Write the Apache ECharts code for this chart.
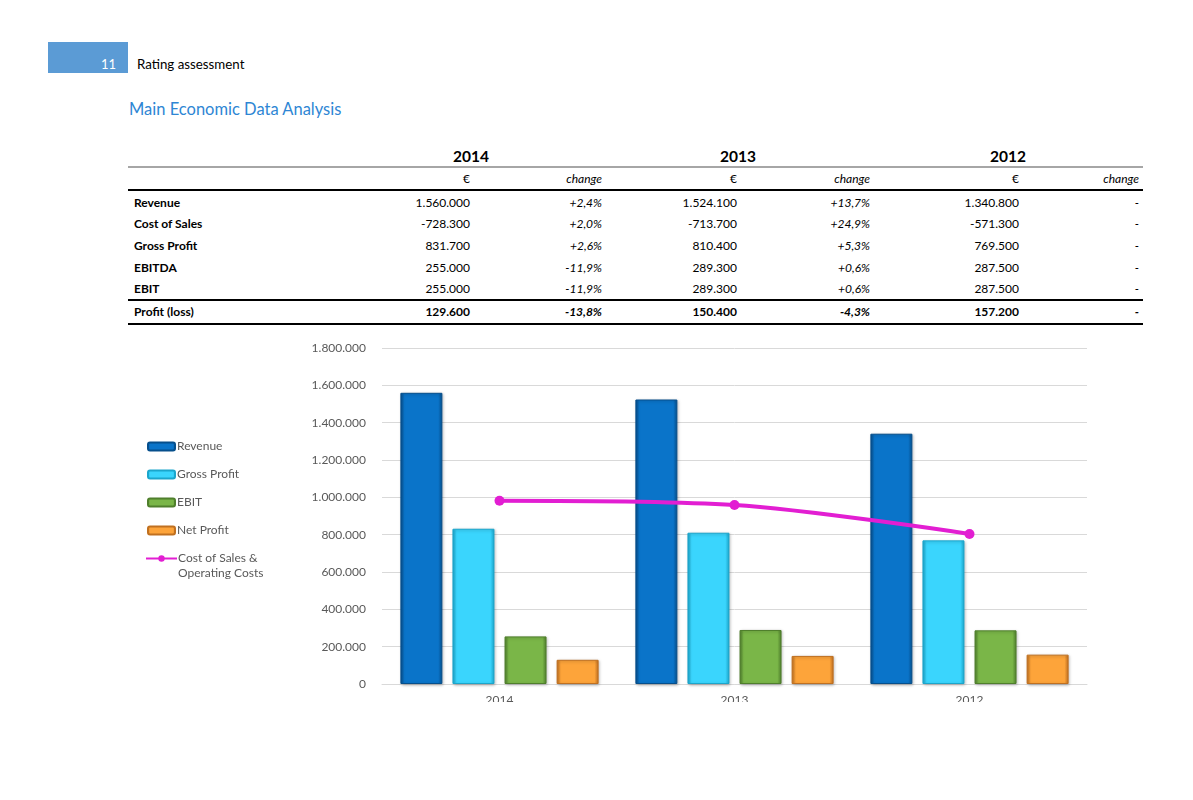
<!DOCTYPE html>
<html>
<head>
<meta charset="utf-8">
<script src="https://cdn.jsdelivr.net/npm/echarts@6/dist/echarts.min.js"></script>
<style>
  body { margin: 0; background: #fff; font-family: Lato, "Open Sans", sans-serif; }
  #page { position: relative; width: 1193px; height: 800px; overflow: hidden; }
  .abs { position: absolute; white-space: nowrap; }
  .hline { position: absolute; left: 128px; width: 1015px; }
  #chart { position: absolute; left: 0; top: 330px; width: 1193px; height: 372px; }
</style>
</head>
<body>
<div id="page">
  <div class="abs" style="left:48px;top:42px;width:80px;height:31px;background:#5b9bd5;"></div>
  <div class="abs" style="left:101px;top:56px;color:#fff;font-size:13px;">11</div>
  <div class="abs" style="left:137px;top:56px;color:#000;font-size:13.3px;">Rating assessment</div>
  <div class="abs" style="left:129px;top:99px;color:#2e86d4;font-size:16.5px;">Main Economic Data Analysis</div>
  <div id="table"></div>
  <div id="chart"></div>
</div>
<script>
// table
var years = ['2014', '2013', '2012'];
var rowNames = ['Revenue', 'Cost of Sales', 'Gross Profit', 'EBITDA', 'EBIT', 'Profit (loss)'];
var euro2014 = ['1.560.000', '-728.300', '831.700', '255.000', '255.000', '129.600'];
var chg2014 = ['+2,4%', '+2,0%', '+2,6%', '-11,9%', '-11,9%', '-13,8%'];
var euro2013 = ['1.524.100', '-713.700', '810.400', '289.300', '289.300', '150.400'];
var chg2013 = ['+13,7%', '+24,9%', '+5,3%', '+0,6%', '+0,6%', '-4,3%'];
var euro2012 = ['1.340.800', '-571.300', '769.500', '287.500', '287.500', '157.200'];
var chg2012 = ['-', '-', '-', '-', '-', '-'];

// chart
var categories = ['2014', '2013', '2012'];
var revenue = [1560000, 1524100, 1340800];
var grossProfit = [831700, 810400, 769500];
var ebit = [255000, 289300, 287500];
var netProfit = [129600, 150400, 157200];
var costs = [982000, 959000, 804000];

function buildTable() {
    var t = document.getElementById('table');
    var html = '';
    var yearX = [471, 738, 1008];
    years.forEach(function (y, i) {
        html += '<div class="abs" style="left:' + (yearX[i] - 40) + 'px;width:80px;text-align:center;top:147px;font-size:15.5px;font-weight:bold;font-family:Lato;">' + y + '</div>';
    });
    var euroRight = [470, 737, 1019];
    var chgRight = [602, 870, 1139];
    var cols = [[euro2014, chg2014], [euro2013, chg2013], [euro2012, chg2012]];
    for (var c = 0; c < 3; c++) {
        html += '<div class="abs" style="left:' + (euroRight[c] - 100) + 'px;width:100px;text-align:right;top:171px;font-size:12px;">€</div>';
        html += '<div class="abs" style="left:' + (chgRight[c] - 100) + 'px;width:100px;text-align:right;top:171px;font-size:12px;font-style:italic;">change</div>';
    }
    var rowY = [195, 216, 238, 260, 281, 304];
    rowNames.forEach(function (name, r) {
        var bold = r === 5 ? 'font-weight:bold;' : '';
        html += '<div class="abs" style="left:134px;top:' + rowY[r] + 'px;font-size:12px;font-weight:bold;">' + name + '</div>';
        for (var c = 0; c < 3; c++) {
            html += '<div class="abs" style="left:' + (euroRight[c] - 100) + 'px;width:100px;text-align:right;top:' + rowY[r] + 'px;font-size:12px;' + bold + '">' + cols[c][0][r] + '</div>';
            html += '<div class="abs" style="left:' + (chgRight[c] - 100) + 'px;width:100px;text-align:right;top:' + rowY[r] + 'px;font-size:12px;font-style:italic;' + bold + '">' + cols[c][1][r] + '</div>';
        }
    });
    html += '<div class="hline" style="top:166px;height:2px;background:#a6a6a6;"></div>';
    html += '<div class="hline" style="top:189px;height:2px;background:#000;"></div>';
    html += '<div class="hline" style="top:299px;height:2px;background:#000;"></div>';
    html += '<div class="hline" style="top:323px;height:2px;background:#000;"></div>';
    t.innerHTML = html;
}
buildTable();

function bevel(main, dark) {
    return {
        color: new echarts.graphic.LinearGradient(0, 0, 1, 0, [
            {offset: 0, color: dark},
            {offset: 0.1, color: main},
            {offset: 0.9, color: main},
            {offset: 1, color: dark}
        ]),
        borderColor: dark,
        borderWidth: 1,
        shadowColor: 'rgba(0,0,0,0.25)',
        shadowBlur: 3,
        shadowOffsetX: 1,
        shadowOffsetY: 1
    };
}

function fmt(v) {
    return String(v).replace(/\B(?=(\d{3})+(?!\d))/g, '.');
}

var lineName = 'Cost of Sales &\nOperating Costs';

var myChart = echarts.init(document.getElementById('chart'));
var option = {
    animation: false,
    textStyle: {fontFamily: 'Lato'},
    grid: {left: 382, right: 106, top: 18, bottom: 18, outerBoundsMode: 'none'},
    legend: [{
        orient: 'vertical',
        left: 142,
        top: 104,
        itemWidth: 27,
        itemHeight: 8,
        itemGap: 13,
        textStyle: {color: '#595959', fontSize: 12, padding: [0, 0, 0, -3], lineHeight: 15},
        data: ['Revenue', 'Gross Profit', 'EBIT', 'Net Profit']
    }, {
        orient: 'vertical',
        left: 140,
        top: 201,
        itemWidth: 31,
        itemHeight: 8,
        // empty first line keeps the icon level with "Cost of Sales &"
        formatter: function (name) { return ' \n' + name; },
        textStyle: {color: '#595959', fontSize: 12, padding: [0, 0, 0, -4], lineHeight: 15},
        data: [lineName]
    }],
    xAxis: {
        type: 'category',
        data: categories,
        axisTick: {show: false},
        axisLine: {lineStyle: {color: '#d9d9d9'}},
        axisLabel: {color: '#595959', fontSize: 12, margin: 10}
    },
    yAxis: {
        type: 'value',
        min: 0,
        max: 1800000,
        interval: 200000,
        axisLabel: {color: '#595959', fontSize: 12, margin: 16, formatter: fmt},
        splitLine: {lineStyle: {color: '#d9d9d9', width: 1}}
    },
    series: [
        {name: 'Revenue', type: 'bar', data: revenue, barWidth: 42, barGap: '24%', itemStyle: bevel('#0a74c9', '#064f8c')},
        {name: 'Gross Profit', type: 'bar', data: grossProfit, barWidth: 42, barGap: '24%', itemStyle: bevel('#3ad5fd', '#1ba6cc')},
        {name: 'EBIT', type: 'bar', data: ebit, barWidth: 42, barGap: '24%', itemStyle: bevel('#7ab648', '#4f7f2c')},
        {name: 'Net Profit', type: 'bar', data: netProfit, barWidth: 42, barGap: '24%', itemStyle: bevel('#fda43a', '#c07020')},
        {
            name: lineName,
            type: 'line',
            data: costs,
            smooth: 0.3,
            symbol: 'circle',
            symbolSize: 10,
            lineStyle: {color: '#e21ed2', width: 4},
            itemStyle: {color: '#e21ed2'}
        }
    ]
};
myChart.setOption(option);
</script>
</body>
</html>
